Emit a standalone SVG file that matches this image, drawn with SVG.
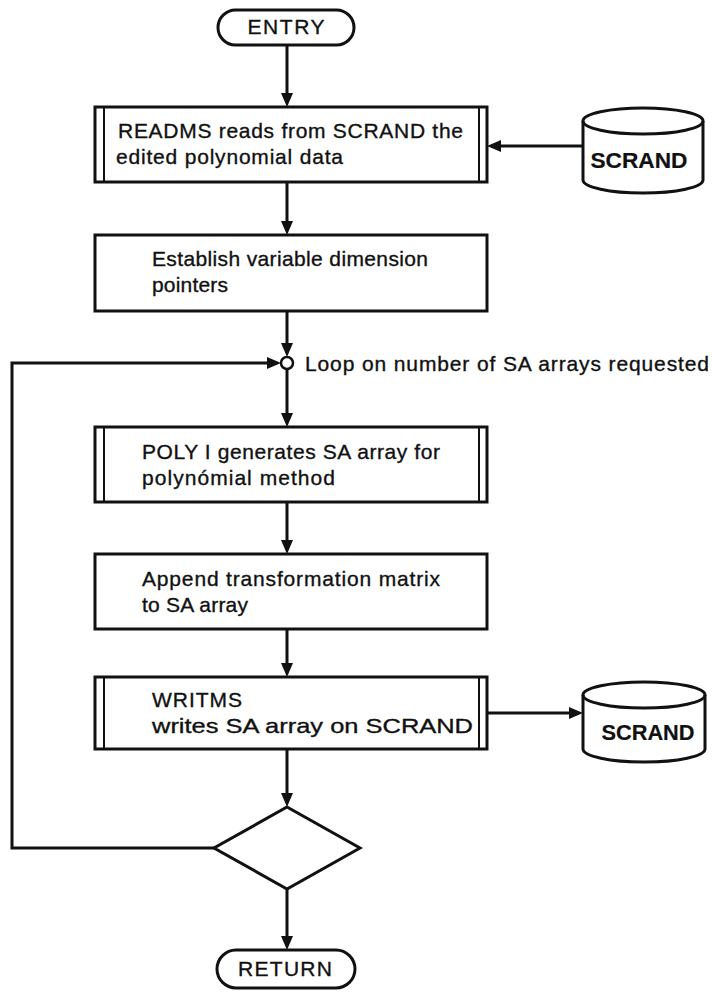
<svg xmlns="http://www.w3.org/2000/svg" width="712" height="996" viewBox="0 0 712 996">
  <defs>
    <marker id="arrow" viewBox="0 0 14 12" refX="10" refY="6" markerWidth="14" markerHeight="12" markerUnits="userSpaceOnUse" orient="auto">
      <path d="M0,0 L14,6 L0,12 z" fill="#111"/>
    </marker>
  </defs>
  <style>
    .shape { fill: #fff; stroke: #111; stroke-width: 3; }
    .bar { fill: none; stroke: #111; stroke-width: 2; }
    .edge { fill: none; stroke: #111; stroke-width: 3; marker-end: url(#arrow); }
    .plain { fill: none; stroke: #111; stroke-width: 3; }
    .t { font-family: "Liberation Sans", Arial, sans-serif; font-size: 21px; fill: #111; stroke: #111; stroke-width: 0.35; }
    .c { text-anchor: middle; }
    .b { font-weight: bold; font-size: 22px; stroke-width: 0.2; }
  </style>
  <rect width="712" height="996" fill="#fff"/>

  <!-- connectors -->
  <g id="connectors">
    <path class="edge" d="M287,45 V103"/>
    <path class="edge" d="M583,146 H491"/>
    <path class="edge" d="M287,182 V231"/>
    <path class="edge" d="M287,311 V353"/>
    <path class="edge" d="M214,848 H12 V363 H277"/>
    <path class="edge" d="M287,369 V423"/>
    <path class="edge" d="M287,502 V550"/>
    <path class="edge" d="M287,629 V673"/>
    <path class="edge" d="M487,713 H579"/>
    <path class="edge" d="M287,749 V803"/>
    <path class="edge" d="M287,889 V946"/>
  </g>

  <!-- start terminal -->
  <g id="entry">
    <rect class="shape" x="218" y="10" width="136" height="35" rx="17.5"/>
    <text class="t c" x="286" y="34" font-size="20" textLength="77" lengthAdjust="spacing">ENTRY</text>
  </g>

  <!-- read subroutine -->
  <g id="readms">
    <rect class="shape" x="95" y="107" width="392" height="75"/>
    <line class="bar" x1="104" y1="107" x2="104" y2="182"/>
    <line class="bar" x1="479" y1="107" x2="479" y2="182"/>
    <text class="t" x="118" y="138" textLength="345" lengthAdjust="spacing">READMS reads from SCRAND the</text>
    <text class="t" x="116" y="164" textLength="227" lengthAdjust="spacing">edited polynomial data</text>
  </g>

  <!-- input file -->
  <g id="scrand-in">
    <path class="shape" d="M583,121 A60,13 0 0 1 703,121 V180 A60,13 0 0 1 583,180 Z"/>
    <path class="plain" d="M583,121 A60,13 0 0 0 703,121"/>
    <text class="t b c" x="639" y="168" textLength="97" lengthAdjust="spacingAndGlyphs">SCRAND</text>
  </g>

  <g id="establish">
    <rect class="shape" x="95" y="235" width="392" height="76"/>
    <text class="t" x="152" y="266" textLength="276" lengthAdjust="spacing">Establish variable dimension</text>
    <text class="t" x="152" y="292" textLength="76" lengthAdjust="spacing">pointers</text>
  </g>

  <!-- loop connector -->
  <g id="loop">
    <circle cx="287" cy="363" r="6" fill="#fff" stroke="#111" stroke-width="2.5"/>
    <text class="t" x="305" y="371" textLength="404" lengthAdjust="spacing">Loop on number of SA arrays requested</text>
  </g>

  <g id="poly">
    <rect class="shape" x="95" y="427" width="392" height="75"/>
    <line class="bar" x1="104" y1="427" x2="104" y2="502"/>
    <line class="bar" x1="479" y1="427" x2="479" y2="502"/>
    <text class="t" x="142" y="459" textLength="298" lengthAdjust="spacing">POLY I generates SA array for</text>
    <text class="t" x="142" y="485" textLength="193" lengthAdjust="spacing">polynómial method</text>
  </g>

  <g id="append">
    <rect class="shape" x="95" y="554" width="392" height="75"/>
    <text class="t" x="142" y="586" textLength="298" lengthAdjust="spacing">Append transformation matrix</text>
    <text class="t" x="142" y="612" textLength="106" lengthAdjust="spacing">to SA array</text>
  </g>

  <g id="writms">
    <rect class="shape" x="95" y="677" width="392" height="72"/>
    <line class="bar" x1="104" y1="677" x2="104" y2="749"/>
    <line class="bar" x1="479" y1="677" x2="479" y2="749"/>
    <text class="t" x="152" y="707" textLength="90" lengthAdjust="spacing">WRITMS</text>
    <text class="t" x="152" y="733" textLength="321" lengthAdjust="spacingAndGlyphs">writes SA array on SCRAND</text>
  </g>

  <!-- output file -->
  <g id="scrand-out">
    <path class="shape" d="M583,695 A61,13 0 0 1 705,695 V749 A61,13 0 0 1 583,749 Z"/>
    <path class="plain" d="M583,695 A61,13 0 0 0 705,695"/>
    <text class="t b c" x="648" y="740" textLength="93" lengthAdjust="spacingAndGlyphs">SCRAND</text>
  </g>

  <g id="decision">
    <path class="shape" d="M287,807 L360,848 L287,889 L214,848 Z"/>
  </g>

  <!-- end terminal -->
  <g id="return">
    <rect class="shape" x="217" y="950" width="138" height="38" rx="19"/>
    <text class="t c" x="285" y="976" font-size="20" textLength="94" lengthAdjust="spacing">RETURN</text>
  </g>
</svg>
